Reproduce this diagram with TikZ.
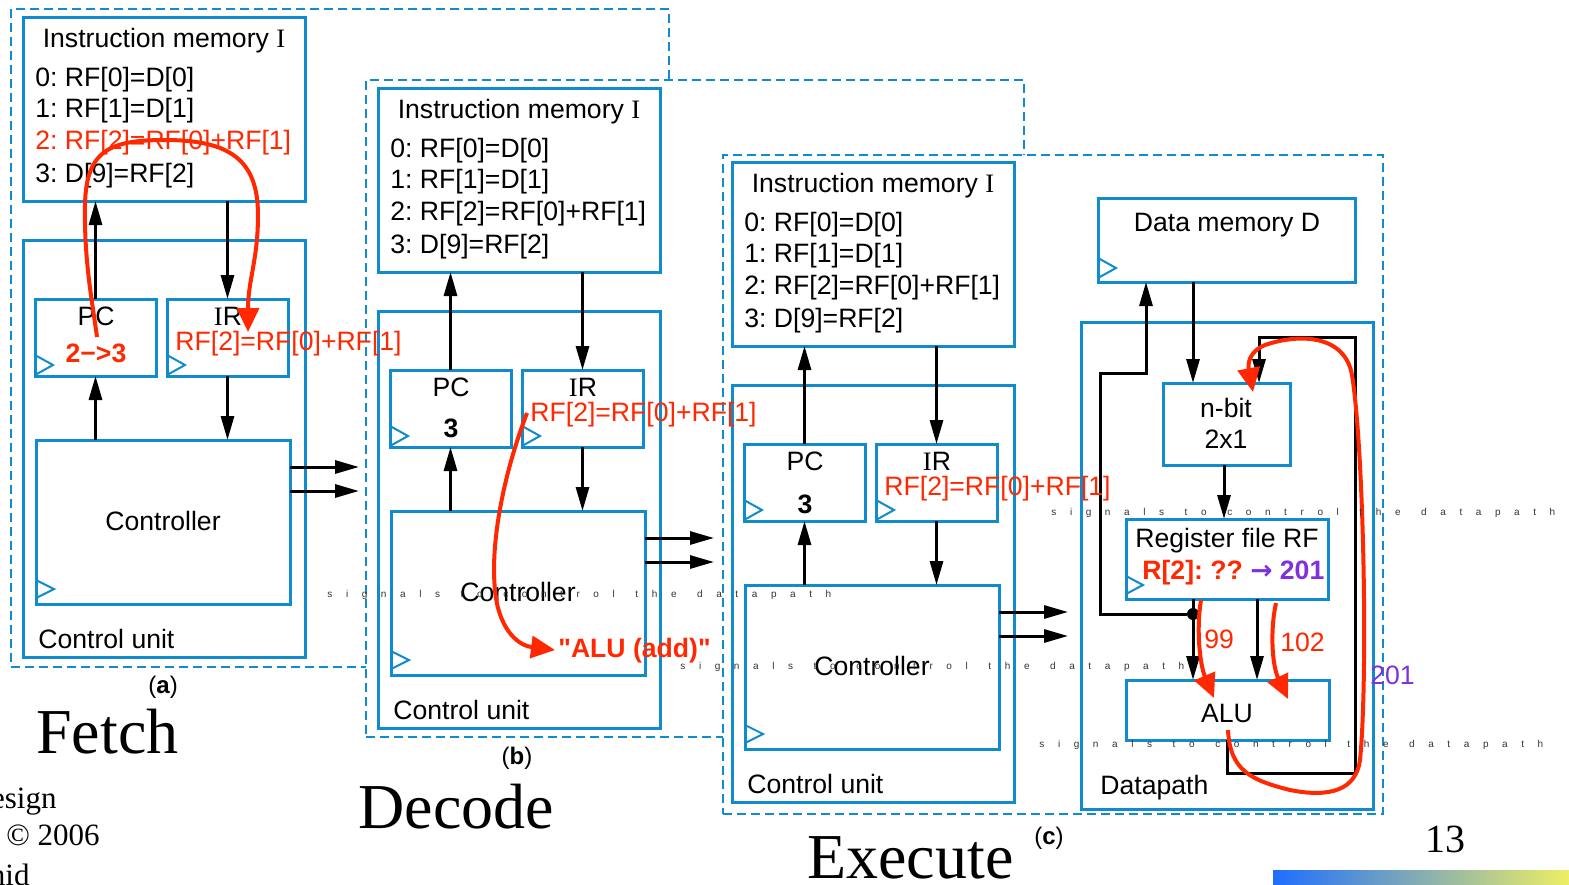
\documentclass[tikz,border=0pt]{standalone}
\usepackage{fontspec}
\setmainfont{Liberation Sans}
\newfontfamily\tms{Liberation Serif}
\newfontfamily\djv{DejaVu Sans}
\usetikzlibrary{arrows.meta}
\definecolor{bl}{RGB}{16,140,206}
\definecolor{rd}{RGB}{255,40,0}
\definecolor{pu}{RGB}{128,48,220}
\newcommand\fs{\fontsize{13.3}{16}\selectfont}
\newlength\lgap \setlength\lgap{6.8pt}
\newlength\wgap \setlength\wgap{3.5pt}
\makeatletter
\def\lspx#1{\lspx@i#1\relax}
\def\lspx@i#1{\ifx#1\relax\else\ifx#1/\kern\wgap\else#1\kern\lgap\fi\expandafter\lspx@i\fi}
\makeatother
\frenchspacing
\tikzset{
  bbox/.style={draw=bl, line width=1.5pt, inner sep=0pt, outer sep=0pt},
  dbox/.style={draw=bl, line width=1pt, dash pattern=on 4.5pt off 2.5pt, fill=white},
  blk/.style={line width=1.5pt, -{Triangle[length=12pt,width=6.5pt]}},
  wire/.style={line width=1.5pt},
  rarr/.style={rd, line width=2pt, -{Triangle[length=12pt,width=11pt]}},
  tx/.style={font=\fs, inner sep=0pt},
  clk/.style={draw=bl, line width=1pt},
  sig/.style={font=\fontsize{5}{6}\selectfont, inner sep=0pt, text=black!80},
  big/.style={font=\tms\fontsize{32}{36}\selectfont, inner sep=0pt},
  foot/.style={font=\tms\fontsize{15.5}{18}\selectfont, inner sep=0pt},
  captxt/.style={font=\fontsize{12}{14}\selectfont, inner sep=0pt},
}
% box from corners: \bx[opts]{x1}{y1}{x2}{y2}{name}
\newcommand\bx[6][]{\node[bbox,#1,minimum width={0.5pt*(#4-#2)},minimum height={0.5pt*(#5-#3)}] (#6) at ({(#2+#4)/2},{(#3+#5)/2}) {};}
% control unit panel: suffix, dx, dy, colour of line 2, PC value, baseline of PC value
\newcommand\cpanel[6]{%
\begin{scope}[shift={(#2,#3)}]
  \bx{23}{17}{305}{201}{im#1}
  \node[tx, anchor=base] (imt#1) at (164,47) {Instruction memory {\tms I}};
  \node[tx, anchor=base west] (la#1) at (35,86.5) {0: RF[0]=D[0]};
  \node[tx, anchor=base west] (lb#1) at (35,117.5) {1: RF[1]=D[1]};
  \node[tx, anchor=base west, text=#4] (lc#1) at (35,149.5) {2: RF[2]=RF[0]+RF[1]};
  \node[tx, anchor=base west] (ld#1) at (35,182.5) {3: D[9]=RF[2]};
  \bx{23}{240}{305}{657}{cu#1}
  \bx{35}{299}{156}{376}{pc#1}
  \bx{167}{299}{288}{376}{ir#1}
  \bx{36}{440}{290}{604}{ctl#1}
  \draw[clk] (35,355) -- (53,365) -- (35,375);
  \draw[clk] (167,355) -- (185,365) -- (167,375);
  \draw[clk] (36,580) -- (54,589) -- (36,598);
  \node[tx, anchor=base] (pcl#1) at (96,325) {PC};
  \node[tx, anchor=base] (irl#1) at (228,325) {{\tms I}R};
  \node[tx, anchor=base] (pcv#1) at (96,#6) {#5};
  \node[tx, anchor=base] (ctt#1) at (163,530) {Controller};
  \node[tx, anchor=base west] (cut#1) at (38,648) {Control unit};
  \draw[blk] (pc#1.north) -- (im#1.south -| pc#1.north);
  \draw[blk] (im#1.south -| ir#1.north) -- (ir#1.north);
  \draw[blk] (ctl#1.north -| pc#1.south) -- (pc#1.south);
  \draw[blk] (ir#1.south) -- (ctl#1.north -| ir#1.south);
  \coordinate (oa#1) at (359,467);
  \coordinate (ob#1) at (359,491);
  \draw[blk] (ctl#1.east |- oa#1) -- (oa#1);
  \draw[blk] (ctl#1.east |- ob#1) -- (ob#1);
\end{scope}}
\begin{document}
\begin{tikzpicture}[x=0.5pt,y=-0.5pt]
\useasboundingbox (0,0) rectangle (1569,884);

% ---------- panel (a)
\bx[dbox]{11}{9}{669}{667}{fa}
\cpanel{a}{0}{0}{rd}{\textcolor{rd}{\bfseries 2−>3}}{362}
% ---------- panel (b)
\bx[dbox]{366}{80}{1024}{737}{fb}
\cpanel{b}{355}{71}{black}{\bfseries 3}{366}
% ---------- panel (c)
\bx[dbox]{723}{155}{1383}{814}{fc}
\cpanel{c}{709}{145}{black}{\bfseries 3}{368}

% ---------- datapath
\bx{1098}{198}{1355}{282}{dm}
\node[tx, anchor=base] (dmt) at (1227,231) {Data memory D};
\draw[clk] (1098,258) -- (1116,268) -- (1098,278);
\bx{1081}{322}{1373}{809}{dp}
\node[tx, anchor=base west] (dpt) at (1100,794) {Datapath};
\bx{1163}{383}{1290}{465}{mux}
\node[tx, anchor=base] (muxa) at (1226,417) {n-bit};
\node[tx, anchor=base] (muxb) at (1226,448) {2x1};
\bx{1126}{519}{1328}{599}{rf}
\node[tx, anchor=base] (rft) at (1227,547) {Register file RF};
\node[tx, anchor=base west] (rfv) at (1142,579) {\textcolor{rd}{\bfseries R[2]: ??} \textcolor{pu}{{\djv\bfseries →} \bfseries 201}};
\draw[clk] (1126,576) -- (1143,585) -- (1126,594);
\bx{1126}{680}{1329}{740}{alu}
\node[tx, anchor=base] (alut) at (1227,722) {ALU};

\coordinate (xa) at (1193,0);
\coordinate (xb) at (1257,0);
\coordinate (xc) at (1146,0);
\coordinate (xd) at (1224,0);
\coordinate (wa) at (1100,373);
\coordinate (wb) at (1355,773);
\coordinate (wc) at (1259,337);
\draw[blk] (dm.south -| xa) -- (mux.north -| xa);
\draw[blk] (mux.south -| xd) -- (rf.north -| xd);
\draw[blk] (rf.south -| xa) -- (alu.north -| xa);
\draw[blk] (rf.south -| xb) -- (alu.north -| xb);
\node[circle, fill=black, inner sep=0pt, minimum size=6pt] (jn) at (1193,614) {};
\draw[blk] (jn) -| (wa) -| (dm.south -| xc);
\draw[blk] (alu.south) |- (wb) |- (wc) -- (mux.north -| wc);

% ---------- red overlays
\node[tx, anchor=base west, text=rd] (ira) at (175,350) {RF[2]=RF[0]+RF[1]};
\node[tx, anchor=base west, text=rd] (irb) at (530,421) {RF[2]=RF[0]+RF[1]};
\node[tx, anchor=base west, text=rd] (irc) at (884,495) {RF[2]=RF[0]+RF[1]};

\draw[rarr] (97,337) .. controls (92,300) and (84,260) .. (85,205)
  .. controls (86,150) and (110,140) .. (165,140)
  .. controls (230,140) and (258,160) .. (258,215)
  .. controls (258,260) and (248,280) .. (248,332);

\draw[rarr] (527,413) .. controls (505,470) and (490,540) .. (495,590)
  .. controls (498,625) and (515,645) .. (555,650);
\node[tx, anchor=base west, text=rd] (alua) at (558,657) {\bfseries \textquotedbl ALU (add)\textquotedbl};

\draw[rarr] (1201,600) .. controls (1196,630) and (1200,665) .. (1214,698);
\draw[rarr] (1276,603) .. controls (1270,630) and (1272,665) .. (1288,699);
\node[tx, anchor=base west, text=rd] (n99) at (1204,648) {99};
\node[tx, anchor=base west, text=rd] (n102) at (1280,651) {102};
\draw[rarr] (1228,730) .. controls (1230,770) and (1250,780) .. (1290,790)
  .. controls (1330,798) and (1356,790) .. (1360,760)
  .. controls (1368,680) and (1364,450) .. (1352,375)
  .. controls (1345,335) and (1300,333) .. (1265,345)
  .. controls (1248,352) and (1248,365) .. (1253,392);
\node[tx, anchor=base west, text=pu] (n201) at (1370,684) {201};

% ---------- letter-spaced labels
\node[sig, anchor=base west] (sga) at (327,597) {\lspx{signals/to/control/the/datapath}};
\node[sig, anchor=base west] (sgb) at (680,669) {\lspx{signals/to/control/the/datapath}};
\node[sig, anchor=base west] (sgc) at (1051,515) {\lspx{signals/to/control/the/datapath}};
\node[sig, anchor=base west] (sgd) at (1039,747) {\lspx{signals/to/control/the/datapath}};

% ---------- captions and titles
\node[captxt, anchor=base] (cpa) at (163,693) {(\textbf{a})};
\node[captxt, anchor=base] (cpb) at (517,764) {(\textbf{b})};
\node[captxt, anchor=base] (cpc) at (1049,844) {(\textbf{c})};
\node[big, anchor=base west] (fetch) at (36,753) {Fetch};
\node[big, anchor=base west] (decode) at (358,828) {Decode};
\node[big, anchor=base west] (execute) at (807,878) {Execute};
\node[foot, anchor=base east] (fta) at (57,808) {esign};
\node[foot, anchor=base west] (ftb) at (6,845) {© 2006};
\node[foot, anchor=base east] (ftc) at (30,885) {hid};
\node[font=\tms\fontsize{20}{24}\selectfont, inner sep=0pt, anchor=base] (pg) at (1445,852) {13};
\shade[left color={rgb,255:red,30;green,110;blue,255}, right color={rgb,255:red,238;green,238;blue,100}] (1273,870) rectangle (1569,884);
\end{tikzpicture}
\end{document}
